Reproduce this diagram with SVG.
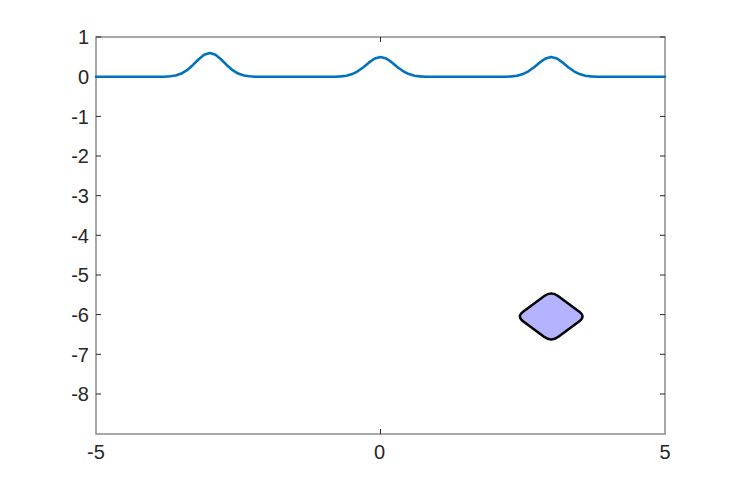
<svg xmlns="http://www.w3.org/2000/svg" width="735" height="488" viewBox="0 0 735 488">
<style>
.lbl{font-family:"Liberation Sans",Arial,sans-serif;font-size:20px;fill:#262626}
.ax{fill:none;stroke:#8c8c8c;stroke-width:1.5}
.tk{stroke:#262626;stroke-width:1}
</style>
<rect width="735" height="488" fill="#ffffff"/>
<g id="axes">
<rect class="ax" x="96" y="37" width="569" height="397"/>
<g class="tk">
<path d="M96 37h5M96 76.7h5M96 116.4h5M96 156h5M96 195.7h5M96 235.3h5M96 275h5M96 314.6h5M96 354.3h5M96 394h5"/>
<path d="M665 37h-5M665 76.7h-5M665 116.4h-5M665 156h-5M665 195.7h-5M665 235.3h-5M665 275h-5M665 314.6h-5M665 354.3h-5M665 394h-5"/>
<path d="M380.5 434v-5M380.5 37v5"/>
</g>
<g class="lbl" text-anchor="end">
<text x="89" y="44">1</text>
<text x="89" y="84">0</text>
<text x="89" y="123.5">-1</text>
<text x="89" y="163">-2</text>
<text x="89" y="203">-3</text>
<text x="89" y="242.5">-4</text>
<text x="89" y="282">-5</text>
<text x="89" y="322">-6</text>
<text x="89" y="361.5">-7</text>
<text x="89" y="401">-8</text>
</g>
<g class="lbl" text-anchor="middle">
<text x="96" y="459">-5</text>
<text x="379.5" y="459">0</text>
<text x="665" y="459">5</text>
</g>
</g>
<g id="curve">
<polyline fill="none" stroke="#0072BD" stroke-width="2.6" stroke-linejoin="round" stroke-linecap="round" points="96,76.8 158.6,76.8 164.3,76.7 170,76.3 175.7,75.5 181.4,73.6 187,70.2 192.7,65.2 198.4,59.5 204.1,54.8 209.8,53 215.5,54.8 221.2,59.5 226.9,65.2 232.6,70.2 238.2,73.6 243.9,75.5 249.6,76.3 255.3,76.7 261,76.8 329.3,76.8 335,76.7 340.7,76.4 346.4,75.7 352.1,74.1 357.7,71.3 363.4,67.2 369.1,62.4 374.8,58.5 380.5,57 386.2,58.5 391.9,62.4 397.6,67.2 403.3,71.3 408.9,74.1 414.6,75.7 420.3,76.4 426,76.7 431.7,76.8 500,76.8 505.7,76.7 511.4,76.4 517.1,75.7 522.8,74.1 528.4,71.3 534.1,67.2 539.8,62.4 545.5,58.5 551.2,57 556.9,58.5 562.6,62.4 568.3,67.2 574,71.3 579.6,74.1 585.3,75.7 591,76.4 596.7,76.7 602.4,76.8 665,76.8"/>
</g>
<g id="diamond">
<path d="M544 296.3 Q551.2 290.8 558.4 296.3 L579 311.5 Q586 316.5 579 321.5 L558.4 336.7 Q551.2 342.2 544 336.7 L523.4 321.5 Q516.4 316.5 523.4 311.5 Z" fill="#b3b3ff" stroke="#000000" stroke-width="2.5" stroke-linejoin="round"/>
</g>
</svg>
